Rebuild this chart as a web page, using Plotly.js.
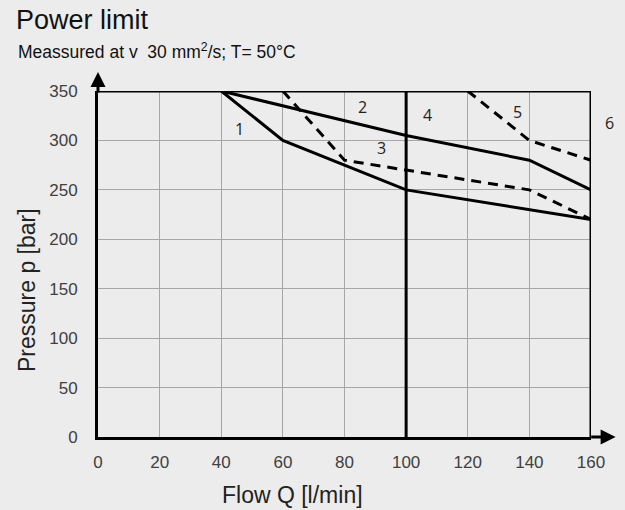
<!DOCTYPE html>
<html>
<head>
<meta charset="utf-8">
<script src="https://cdn.plot.ly/plotly-3.0.1.min.js"></script>
<style>html,body{margin:0;padding:0;background:#ececec;}#chart{width:625px;height:510px;}</style>
</head>
<body>
<div id="chart"></div>
<script>
// Data
const xTicks = [0, 20, 40, 60, 80, 100, 120, 140, 160];
const yTicks = [0, 50, 100, 150, 200, 250, 300, 350];

const limitX = [0, 160];
const limitY = [350, 350];

const c1x = [40, 60, 100, 140, 160];
const c1y = [350, 300, 250, 230, 220];

const c2x = [40, 100, 140, 160];
const c2y = [350, 305, 280, 250];

const c3x = [60, 80, 100, 140, 160];
const c3y = [350, 280, 270, 250, 220];

const c4x = [100, 100];
const c4y = [0, 350];

const c5x = [120, 140, 160];
const c5y = [350, 300, 280];

const c6x = [160, 160];
const c6y = [0, 350];

const labelText = ["1", "2", "3", "4", "5", "6"];
const labelX = [46, 86, 92, 107, 136, 166];
const labelY = [312, 334, 292, 326, 329, 318];

const solid = {color: '#000', width: 3};
const dashed = {color: '#000', width: 3, dash: '10px,7px'};

function tr(x, y, line, name) {
  return {x: x, y: y, mode: 'lines', line: line, name: name, hoverinfo: 'skip', cliponaxis: false};
}

const traces = [
  tr(limitX, limitY, solid, 'limit'),
  tr(c1x, c1y, solid, '1'),
  tr(c2x, c2y, solid, '2'),
  tr(c3x, c3y, dashed, '3'),
  tr(c4x, c4y, solid, '4'),
  tr(c5x, c5y, dashed, '5'),
  tr(c6x, c6y, solid, '6')
];

// plot area pixel geometry (for placing the curve-number labels, incl. the one outside the axes)
const L = 98, T = 91, W = 493, H = 346;
const xr = [0, 160], yr = [0, 350];
const labelAnns = labelText.map((t, i) => ({
  x: (labelX[i] - xr[0]) / (xr[1] - xr[0]), y: (labelY[i] - yr[0]) / (yr[1] - yr[0]),
  xref: 'paper', yref: 'paper', xanchor: 'center', yanchor: 'middle', text: t, showarrow: false,
  font: {family: 'Open Sans, Liberation Sans, sans-serif', size: 16, color: '#222'}
}));

const tickFont = {family: 'Liberation Sans, Arial, sans-serif', size: 17, color: '#404040'};
const titleFont = {family: 'Liberation Sans, Arial, sans-serif', size: 23, color: '#222'};

const layout = {
  width: 625, height: 510,
  paper_bgcolor: '#ececec', plot_bgcolor: '#ececec',
  showlegend: false,
  margin: {l: L, r: 625 - L - W, t: T, b: 510 - T - H, pad: 0},
  title: {
    text: 'Power limit', xref: 'container', yref: 'container',
    x: 16 / 625, xanchor: 'left', y: 1 - 20 / 510, yanchor: 'middle',
    font: {family: 'Liberation Sans, Arial, sans-serif', size: 27, color: '#111'}
  },
  xaxis: {
    range: xr, tickvals: xTicks, ticktext: xTicks.map(String),
    showgrid: true, gridcolor: '#a6a6a6', gridwidth: 1, zeroline: false,
    showline: true, linecolor: '#000', linewidth: 3, ticks: '',
    tickfont: tickFont, ticklabelstandoff: 8
  },
  yaxis: {
    range: yr, tickvals: yTicks, ticktext: yTicks.map(String),
    showgrid: true, gridcolor: '#a6a6a6', gridwidth: 1, zeroline: false,
    showline: true, linecolor: '#000', linewidth: 3, ticks: '',
    tickfont: tickFont, ticklabelstandoff: 14
  },
  annotations: labelAnns.concat([
    {xref: 'paper', yref: 'paper', x: 0, y: 1.055, ax: 0, ay: 22, text: '', showarrow: true,
     arrowhead: 2, arrowsize: 1, arrowwidth: 3, arrowcolor: '#000'},
    {xref: 'paper', yref: 'paper', x: 1.05, y: 0, ax: -26, ay: 0, text: '', showarrow: true,
     arrowhead: 2, arrowsize: 1, arrowwidth: 3, arrowcolor: '#000'},
    {xref: 'paper', yref: 'paper', x: (16 - L) / W, xanchor: 'left', y: (T + H - 51) / H, yanchor: 'middle',
     showarrow: false,
     text: 'Meassured at v&nbsp; 30 mm<sup>2</sup>/s; T= 50°C',
     font: {family: 'Liberation Sans, Arial, sans-serif', size: 17.5, color: '#111'}},
    {xref: 'paper', yref: 'paper', x: (292 - L) / W, y: (T + H - 495) / H, xanchor: 'center', yanchor: 'middle',
     showarrow: false, text: 'Flow Q [l/min]', font: titleFont},
    {xref: 'paper', yref: 'paper', x: (27 - L) / W, y: (T + H - 290) / H, xanchor: 'center', yanchor: 'middle',
     showarrow: false, textangle: -90, text: 'Pressure p [bar]', font: titleFont}
  ])
};

Plotly.newPlot('chart', traces, layout, {staticPlot: true, displayModeBar: false});
</script>
</body>
</html>
